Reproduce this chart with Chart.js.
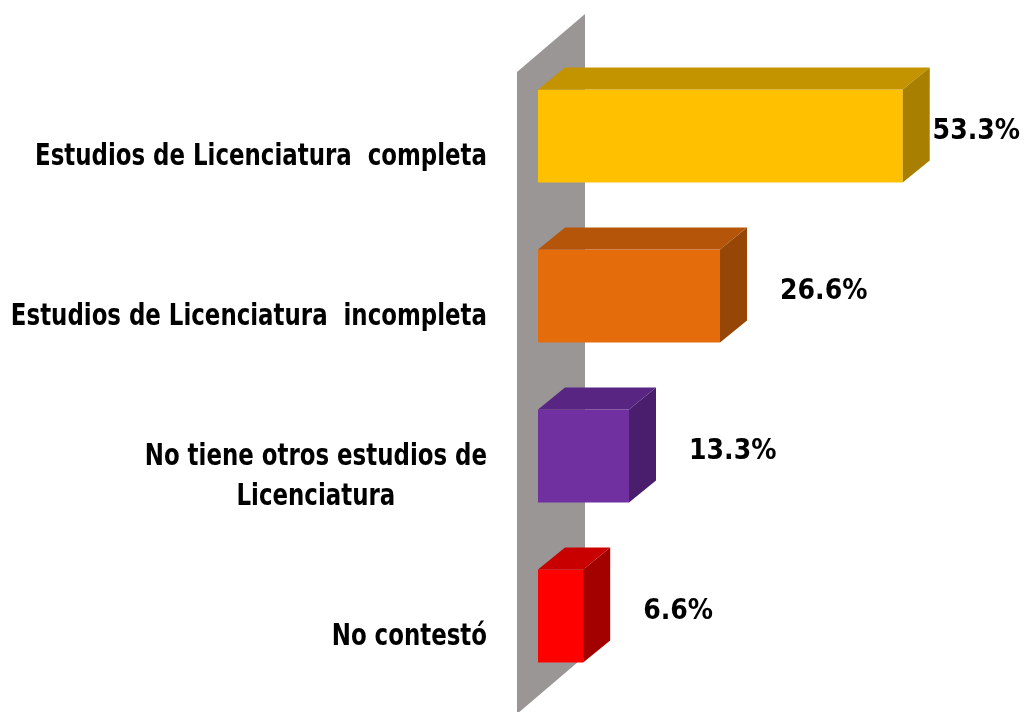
<!DOCTYPE html>
<html lang="es">
<head>
    <meta charset="UTF-8">
    <title>Estudios de Licenciatura</title>
    <script src="https://cdn.jsdelivr.net/npm/chart.js"></script>
    <style>
        html, body { margin: 0; padding: 0; background: #fff; }
        #wrap { width: 1024px; height: 712px; position: relative; }
    </style>
</head>
<body>
    <div id="wrap"><canvas id="estudiosChart"></canvas></div>

    <script>
        // categories (one may span two lines)
        const categories = [
            ['Estudios de Licenciatura  completa'],
            ['Estudios de Licenciatura  incompleta'],
            ['No tiene otros estudios de', 'Licenciatura'],
            ['No contestó']
        ];
        const values = [53.3, 26.6, 13.3, 6.6];
        const valueLabels = ['53.3%', '26.6%', '13.3%', '6.6%'];

        // front / top / side shades for the 3d blocks
        const frontColors = ['#FFC000', '#E46C0A', '#7030A0', '#FF0000'];
        const topColors = ['#C49400', '#B5550A', '#582582', '#C80000'];
        const sideColors = ['#A87F00', '#964606', '#4A1E6C', '#A30000'];

        const DX = 27, DY = -22;  // depth offset of the blocks
        const labelFont = 'bold 30px "DejaVu Sans Condensed", "DejaVu Sans", sans-serif';
        const valueFont = 'bold 28px "DejaVu Sans Condensed", "DejaVu Sans", sans-serif';
        const LABEL_RIGHT = 487;
        const FIRST_LABEL_WIDTH = 452; // squeeze text to this width like the original

        // grey wall behind the bars + 3d faces
        const wallAndFaces = {
            id: 'wallAndFaces',
            beforeDatasetsDraw(chart) {
                const { ctx, chartArea } = chart;
                const fx = chartArea.left - 21, bx = chartArea.left + 47;
                ctx.save();
                ctx.fillStyle = '#9B9696';
                ctx.beginPath();
                ctx.moveTo(fx, 72);
                ctx.lineTo(bx, 14);
                ctx.lineTo(bx, 656);
                ctx.lineTo(fx, 714);
                ctx.closePath();
                ctx.fill();
                ctx.restore();
            },
            afterDatasetsDraw(chart) {
                const { ctx } = chart;
                const meta = chart.getDatasetMeta(0);
                ctx.save();
                meta.data.forEach((bar, i) => {
                    const x0 = bar.base, x1 = bar.x;
                    const y0 = bar.y - bar.height / 2, y1 = bar.y + bar.height / 2;
                    // top face
                    ctx.fillStyle = topColors[i];
                    ctx.beginPath();
                    ctx.moveTo(x0, y0);
                    ctx.lineTo(x1, y0);
                    ctx.lineTo(x1 + DX, y0 + DY);
                    ctx.lineTo(x0 + DX, y0 + DY);
                    ctx.closePath();
                    ctx.fill();
                    // side face
                    ctx.fillStyle = sideColors[i];
                    ctx.beginPath();
                    ctx.moveTo(x1, y0);
                    ctx.lineTo(x1 + DX, y0 + DY);
                    ctx.lineTo(x1 + DX, y1 + DY);
                    ctx.lineTo(x1, y1);
                    ctx.closePath();
                    ctx.fill();
                });
                ctx.restore();
            },
            afterDraw(chart) {
                const { ctx } = chart;
                const meta = chart.getDatasetMeta(0);
                const yScale = chart.scales.y;
                ctx.save();
                ctx.fillStyle = '#000';
                ctx.textBaseline = 'middle';

                // category labels, squeezed horizontally, block right edge at LABEL_RIGHT
                ctx.font = labelFont;
                ctx.textAlign = 'center';
                const sx = FIRST_LABEL_WIDTH / ctx.measureText(categories[0][0]).width;
                categories.forEach((lines, i) => {
                    const cy = yScale.getPixelForValue(i) + 21;
                    const w = Math.max(...lines.map(l => ctx.measureText(l).width)) * sx;
                    const cx = LABEL_RIGHT - w / 2;
                    const lh = 40;
                    lines.forEach((l, k) => {
                        ctx.save();
                        ctx.translate(cx, cy + (k - (lines.length - 1) / 2) * lh);
                        ctx.scale(sx, 1);
                        ctx.fillText(l, 0, 0);
                        ctx.restore();
                    });
                });

                // value labels right of each block
                ctx.font = valueFont;
                ctx.textAlign = 'left';
                meta.data.forEach((bar, i) => {
                    const w = ctx.measureText(valueLabels[i]).width;
                    let x = bar.x + DX + 33;
                    x = Math.min(x, chart.width - w - 4);
                    ctx.fillText(valueLabels[i], x, bar.y - 4);
                });
                ctx.restore();
            }
        };

        const ctx = document.getElementById('estudiosChart').getContext('2d');
        const estudiosChart = new Chart(ctx, {
            type: 'bar',
            data: {
                labels: categories,
                datasets: [{
                    data: values,
                    backgroundColor: frontColors,
                    borderWidth: 0,
                    categoryPercentage: 1,
                    barPercentage: 0.58
                }]
            },
            options: {
                indexAxis: 'y',
                responsive: true,
                maintainAspectRatio: false,
                animation: false,
                layout: { padding: { left: 538, right: 7, top: 56, bottom: 16 } },
                plugins: {
                    legend: { display: false },
                    tooltip: { enabled: false }
                },
                scales: {
                    x: { display: false, min: 0, max: 70 },
                    y: { display: false }
                }
            },
            plugins: [wallAndFaces]
        });
    </script>
</body>
</html>
